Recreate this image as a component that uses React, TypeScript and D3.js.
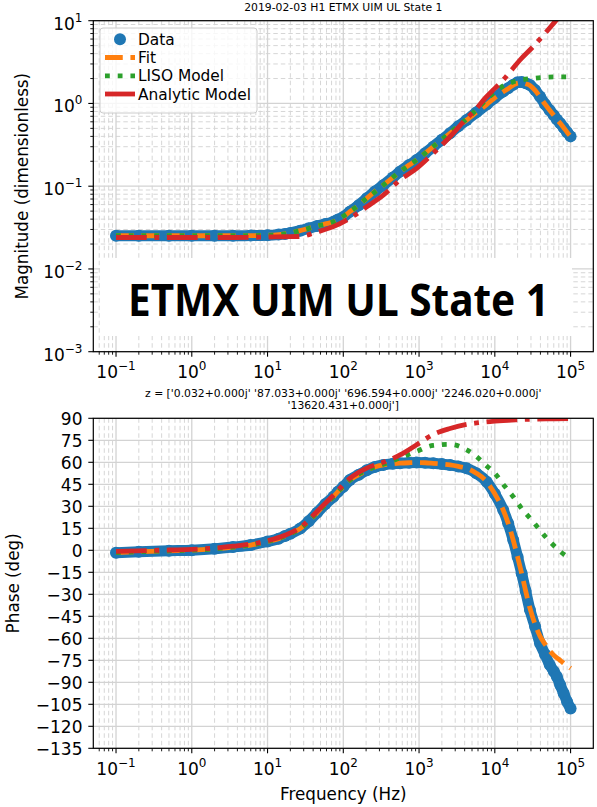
import React from "react";
import * as d3 from "d3";

// ---------- data ----------
const freqData = [0.1, 0.2, 0.5, 1, 2, 3.5, 6, 10, 14, 17, 20, 27, 35, 45, 58, 74, 85, 100, 122, 160, 204, 260, 337, 450, 560, 740, 930, 1200, 1540, 2000, 2560, 3300, 4250, 5700, 7800, 10000, 12900, 15000, 17500, 20000, 22600, 25500, 29100, 34000, 39500, 46000, 53000, 60000, 66000, 73000, 81000, 90000, 100000];
const magData = [0.0252, 0.0252, 0.0252, 0.0252, 0.0252, 0.0252, 0.0253, 0.0255, 0.026, 0.0265, 0.0272, 0.029, 0.031, 0.033, 0.035, 0.0372, 0.0395, 0.0425, 0.0492, 0.059, 0.0714, 0.086, 0.103, 0.127, 0.15, 0.18, 0.207, 0.25, 0.3, 0.365, 0.435, 0.53, 0.631, 0.78, 0.97, 1.17, 1.39, 1.53, 1.68, 1.8, 1.82, 1.76, 1.67, 1.45, 1.21, 0.98, 0.83, 0.72, 0.64, 0.575, 0.51, 0.45, 0.4];
const phaseData = [-1.6, -1.0, -0.3, 0.1, 1.0, 2.2, 3.6, 6.0, 7.9, 9.8, 11.3, 14.8, 19.8, 25.6, 31.5, 36.5, 40, 43.3, 47.9, 51.5, 54.5, 56.8, 58.2, 59.0, 59.4, 59.7, 59.8, 59.7, 59.3, 58.8, 58.2, 57.2, 55.9, 52.6, 46.8, 38.5, 27.5, 18.5, 7.0, -4.6, -15.7, -27.6, -40.7, -52, -63.4, -71, -78, -82.5, -86.2, -91.9, -97.4, -103.2, -107.8];

const freqFit = [0.1, 0.2, 0.5, 1, 2, 3.5, 6, 10, 14, 17, 20, 27, 35, 45, 58, 74, 85, 100, 122, 160, 204, 260, 337, 450, 560, 740, 930, 1200, 1540, 2000, 2560, 3300, 4250, 5700, 7800, 10000, 12900, 15000, 17500, 20000, 22600, 25500, 29100, 34000, 39500, 46000, 53000, 60000, 66000, 73000, 81000, 90000, 100000];
const magFit = [0.0252, 0.0252, 0.0252, 0.0252, 0.0252, 0.0252, 0.0253, 0.0255, 0.026, 0.0265, 0.0272, 0.029, 0.031, 0.033, 0.035, 0.0372, 0.0395, 0.0425, 0.0492, 0.059, 0.0714, 0.086, 0.103, 0.127, 0.15, 0.18, 0.207, 0.25, 0.3, 0.365, 0.435, 0.53, 0.631, 0.78, 0.97, 1.17, 1.38, 1.51, 1.66, 1.76, 1.78, 1.73, 1.65, 1.44, 1.2, 0.98, 0.83, 0.72, 0.64, 0.575, 0.51, 0.45, 0.4];
const phaseFit = [-1.6, -1.0, -0.3, 0.1, 1.0, 2.2, 3.6, 6.0, 7.9, 9.8, 11.3, 14.8, 19.8, 25.6, 31.5, 36.5, 40, 43.3, 47.9, 51.5, 54.5, 56.8, 58.2, 59.0, 59.4, 59.7, 59.8, 59.7, 59.3, 58.8, 58.2, 57.2, 55.9, 52.6, 46.8, 38.5, 27.5, 18.5, 7.0, -4.6, -15.7, -27.6, -39.5, -50.5, -58.5, -64, -68.5, -71.5, -73.3, -75, -77, -78.8, -80.5];

const freqLiso = [0.1, 0.5, 1, 3.5, 10, 17, 27, 45, 74, 122, 204, 337, 560, 930, 1540, 2560, 4250, 5700, 7800, 10000, 13600, 17500, 22600, 32000, 48000, 72000, 100000];
const magLiso = [0.0252, 0.0252, 0.0252, 0.0252, 0.0255, 0.0265, 0.029, 0.033, 0.0372, 0.0492, 0.0714, 0.103, 0.15, 0.208, 0.302, 0.44, 0.65, 0.84, 1.12, 1.38, 1.67, 1.82, 1.92, 2.01, 2.08, 2.1, 2.1];
const phaseLiso = [-1.6, -0.3, 0.1, 2.2, 6.0, 9.8, 14.8, 25.6, 36.5, 47.9, 54.6, 58.6, 63, 67.5, 71.5, 72.2, 68.5, 64, 57.5, 52.5, 43.5, 36.5, 28.5, 19.5, 8.5, -0.5, -6];

const freqAna = [0.1, 0.5, 1, 3.5, 10, 17, 27, 45, 74, 122, 204, 337, 560, 930, 1540, 2560, 4250, 5770, 7400, 10000, 12900, 16700, 21500, 32000, 48000, 62000, 100000];
const magAna = [0.024, 0.024, 0.024, 0.024, 0.0243, 0.0245, 0.0247, 0.028, 0.0325, 0.041, 0.0565, 0.078, 0.119, 0.164, 0.25, 0.396, 0.662, 0.873, 1.15, 1.52, 1.92, 2.54, 3.35, 4.85, 7.36, 9.7, 15.5];
const phaseAna = [-0.8, 0.2, 0.6, 2.8, 6.5, 10.3, 15.5, 26.5, 37.5, 49, 56, 60, 65, 72, 79, 83, 85.8, 86.8, 87.5, 88.1, 88.5, 88.8, 89.1, 89.4, 89.6, 89.7, 89.8];

const freqTickExps = [-1, 0, 1, 2, 3, 4, 5];
const magTickExps = [-3, -2, -1, 0, 1];
const phaseTicks = [-135, -120, -105, -90, -75, -60, -45, -30, -15, 0, 15, 30, 45, 60, 75, 90];

const seriesNames = ["Data", "Fit", "LISO Model", "Analytic Model"];
const titleTop = "2019-02-03 H1 ETMX UIM UL State 1";
const titleBottom = [
  "z = ['0.032+0.000j' '87.033+0.000j' '696.594+0.000j' '2246.020+0.000j'",
  "'13620.431+0.000j']",
];
const bigLabel = "ETMX UIM UL State 1";

// ---------- layout ----------
const W = 597;
const H = 807;
const X0 = 93.3;
const X1 = 593.3;
const MAG_TOP = 20.7;
const MAG_BOT = 351.7;
const PH_TOP = 418.3;
const PH_BOT = 748.3;
const FONT = "DejaVu Sans";

const C_BLUE = "#1f77b4";
const C_ORANGE = "#ff7f0e";
const C_GREEN = "#2ca02c";
const C_RED = "#d62728";
const LW = 4.8;
const DASH_FIT = `${3.7 * LW},${1.6 * LW}`;
const DASH_LISO = `${1 * LW},${1.65 * LW}`;
const DASH_ANA = `${6.4 * LW},${1.6 * LW},${1 * LW},${1.6 * LW}`;

const x = d3.scaleLog().domain([Math.pow(10, -1.3), Math.pow(10, 5.3)]).range([X0, X1]);
const yMag = d3.scaleLog().domain([1e-3, 10]).range([MAG_BOT, MAG_TOP]);
const yPh = d3.scaleLinear().domain([-135, 90]).range([PH_BOT, PH_TOP]);

const [xd0, xd1] = x.domain();
const xMinor: number[] = [];
for (let k = -2; k <= 5; k++) {
  for (let m = 2; m <= 9; m++) {
    const v = m * Math.pow(10, k);
    if (v >= xd0 && v <= xd1) xMinor.push(v);
  }
}
const magMinor: number[] = [];
for (let k = -3; k <= 0; k++) {
  for (let m = 2; m <= 9; m++) magMinor.push(m * Math.pow(10, k));
}

const expStr = (e: number) => (e < 0 ? "\u2212" + Math.abs(e) : String(e));

function PowLabel({ px, py, exp, anchor }: { px: number; py: number; exp: number; anchor: string }) {
  return (
    <text x={px} y={py} textAnchor={anchor} fontFamily={FONT} fontSize={17} fill="#000">
      <tspan>10</tspan>
      <tspan dy={-8} fontSize={12}>
        {expStr(exp)}
      </tspan>
    </text>
  );
}

function makeLine(fr: number[], vals: number[], yS: (v: number) => number) {
  const pts = fr.map((f, i) => [f, vals[i]] as [number, number]);
  return d3
    .line<[number, number]>()
    .x((d) => x(d[0]))
    .y((d) => yS(d[1]))
    .curve(d3.curveMonotoneX)(pts) as string;
}

function Panel({
  top,
  bottom,
  yS,
  mags,
  id,
}: {
  top: number;
  bottom: number;
  yS: (v: number) => number;
  mags: boolean;
  id: string;
}) {
  const vData = mags ? magData : phaseData;
  const vFit = mags ? magFit : phaseFit;
  const vLiso = mags ? magLiso : phaseLiso;
  const vAna = mags ? magAna : phaseAna;
  const yMajor = mags ? magTickExps.map((e) => Math.pow(10, e)) : phaseTicks;
  const yMinor = mags ? magMinor : [];
  return (
    <g>
      <defs>
        <clipPath id={id}>
          <rect x={X0} y={top} width={X1 - X0} height={bottom - top} />
        </clipPath>
      </defs>
      {/* grid */}
      <g>
        {xMinor.map((v, i) => (
          <line key={"xm" + i} x1={x(v)} x2={x(v)} y1={top} y2={bottom} stroke="#d6d6d6" strokeWidth={1} strokeDasharray="4.5,3" />
        ))}
        {yMinor.map((v, i) => (
          <line key={"ym" + i} x1={X0} x2={X1} y1={yS(v)} y2={yS(v)} stroke="#d6d6d6" strokeWidth={1} strokeDasharray="4.5,3" />
        ))}
        {freqTickExps.map((e) => (
          <line key={"xM" + e} x1={x(Math.pow(10, e))} x2={x(Math.pow(10, e))} y1={top} y2={bottom} stroke="#d3d3d3" strokeWidth={1.3} />
        ))}
        {yMajor.map((v, i) => (
          <line key={"yM" + i} x1={X0} x2={X1} y1={yS(v)} y2={yS(v)} stroke="#d3d3d3" strokeWidth={1.3} />
        ))}
      </g>
      {mags && (
        <g>
          <rect x={100} y={258} width={472} height={78} fill="#ffffff" />
          <text
            x={338.5}
            y={316}
            textAnchor="middle"
            fontFamily="'Noto Sans', 'Open Sans', sans-serif"
            fontWeight={700}
            fontSize={45}
            textLength={421}
            lengthAdjust="spacingAndGlyphs"
            fill="#000"
          >
            {bigLabel}
          </text>
        </g>
      )}
      {/* series */}
      <g clipPath={`url(#${id})`}>
        <path d={makeLine(freqData, vData, yS)} fill="none" stroke={C_BLUE} strokeWidth={11} strokeLinecap="round" strokeLinejoin="round" />
        {freqData.map((f, i) => (
          <circle key={"d" + i} cx={x(f)} cy={yS(vData[i])} r={6} fill={C_BLUE} />
        ))}
        <path d={makeLine(freqFit, vFit, yS)} fill="none" stroke={C_ORANGE} strokeWidth={LW} strokeDasharray={DASH_FIT} />
        <path d={makeLine(freqLiso, vLiso, yS)} fill="none" stroke={C_GREEN} strokeWidth={LW} strokeDasharray={DASH_LISO} />
        <path d={makeLine(freqAna, vAna, yS)} fill="none" stroke={C_RED} strokeWidth={LW} strokeDasharray={DASH_ANA} />
      </g>
      {/* spines */}
      <rect x={X0} y={top} width={X1 - X0} height={bottom - top} fill="none" stroke="#000" strokeWidth={1.2} />
      {/* x ticks */}
      {freqTickExps.map((e) => (
        <line key={"xt" + e} x1={x(Math.pow(10, e))} x2={x(Math.pow(10, e))} y1={bottom} y2={bottom + 5} stroke="#000" strokeWidth={1.1} />
      ))}
      {xMinor.map((v, i) => (
        <line key={"xtm" + i} x1={x(v)} x2={x(v)} y1={bottom} y2={bottom + 3} stroke="#000" strokeWidth={0.9} />
      ))}
      {freqTickExps.map((e) => (
        <PowLabel key={"xl" + e} px={x(Math.pow(10, e))} py={bottom + 26.5} exp={e} anchor="middle" />
      ))}
      {/* y ticks */}
      {yMajor.map((v, i) => (
        <line key={"yt" + i} x1={X0 - 5} x2={X0} y1={yS(v)} y2={yS(v)} stroke="#000" strokeWidth={1.1} />
      ))}
      {yMinor.map((v, i) => (
        <line key={"ytm" + i} x1={X0 - 3} x2={X0} y1={yS(v)} y2={yS(v)} stroke="#000" strokeWidth={0.9} />
      ))}
      {mags
        ? magTickExps.map((e) => <PowLabel key={"yl" + e} px={82.5} py={yS(Math.pow(10, e)) + 9} exp={e} anchor="end" />)
        : phaseTicks.map((v) => (
            <text key={"yl" + v} x={82.5} y={yS(v) + 6.5} textAnchor="end" fontFamily={FONT} fontSize={17} fill="#000">
              {v < 0 ? "\u2212" + Math.abs(v) : String(v)}
            </text>
          ))}
    </g>
  );
}

function Legend() {
  const ys = [39.3, 57.5, 75.8, 94];
  return (
    <g>
      <rect x={100} y={28} width={157} height={85} rx={3} fill="#ffffff" fillOpacity={0.8} stroke="#cccccc" strokeWidth={1} />
      <circle cx={120} cy={ys[0]} r={6} fill={C_BLUE} />
      <line x1={105} x2={135} y1={ys[1]} y2={ys[1]} stroke={C_ORANGE} strokeWidth={LW} strokeDasharray={DASH_FIT} />
      <line x1={105} x2={135} y1={ys[2]} y2={ys[2]} stroke={C_GREEN} strokeWidth={LW} strokeDasharray={DASH_LISO} />
      <line x1={105} x2={135} y1={ys[3]} y2={ys[3]} stroke={C_RED} strokeWidth={LW} />
      {seriesNames.map((n, i) => (
        <text key={n} x={138} y={ys[i] + 5.6} fontFamily={FONT} fontSize={15.4} fill="#000">
          {n}
        </text>
      ))}
    </g>
  );
}

export default function App() {
  const cx = (X0 + X1) / 2;
  return (
    <div style={{ position: "absolute", left: 0, top: 0, width: W, height: H, background: "#fff" }}>
      <svg width={W} height={H} viewBox={`0 0 ${W} ${H}`} style={{ display: "block" }}>
        <rect x={0} y={0} width={W} height={H} fill="#ffffff" />
        <text x={cx} y={11} textAnchor="middle" fontFamily={FONT} fontSize={10.8} fill="#000">
          {titleTop}
        </text>
        <Panel top={MAG_TOP} bottom={MAG_BOT} yS={yMag} mags={true} id="clipMag" />
        <Legend />
        {titleBottom.map((t, i) => (
          <text key={i} x={cx} y={396.5 + i * 12} textAnchor="middle" fontFamily={FONT} fontSize={10.8} fill="#000">
            {t}
          </text>
        ))}
        <Panel top={PH_TOP} bottom={PH_BOT} yS={yPh} mags={false} id="clipPh" />
        <text
          transform={`translate(28,${(MAG_TOP + MAG_BOT) / 2}) rotate(-90)`}
          textAnchor="middle"
          fontFamily={FONT}
          fontSize={16.8}
          fill="#000"
        >
          Magnitude (dimensionless)
        </text>
        <text
          transform={`translate(18.5,${(PH_TOP + PH_BOT) / 2}) rotate(-90)`}
          textAnchor="middle"
          fontFamily={FONT}
          fontSize={16.8}
          fill="#000"
        >
          Phase (deg)
        </text>
        <text x={cx} y={800} textAnchor="middle" fontFamily={FONT} fontSize={16.8} fill="#000">
          Frequency (Hz)
        </text>
      </svg>
    </div>
  );
}
